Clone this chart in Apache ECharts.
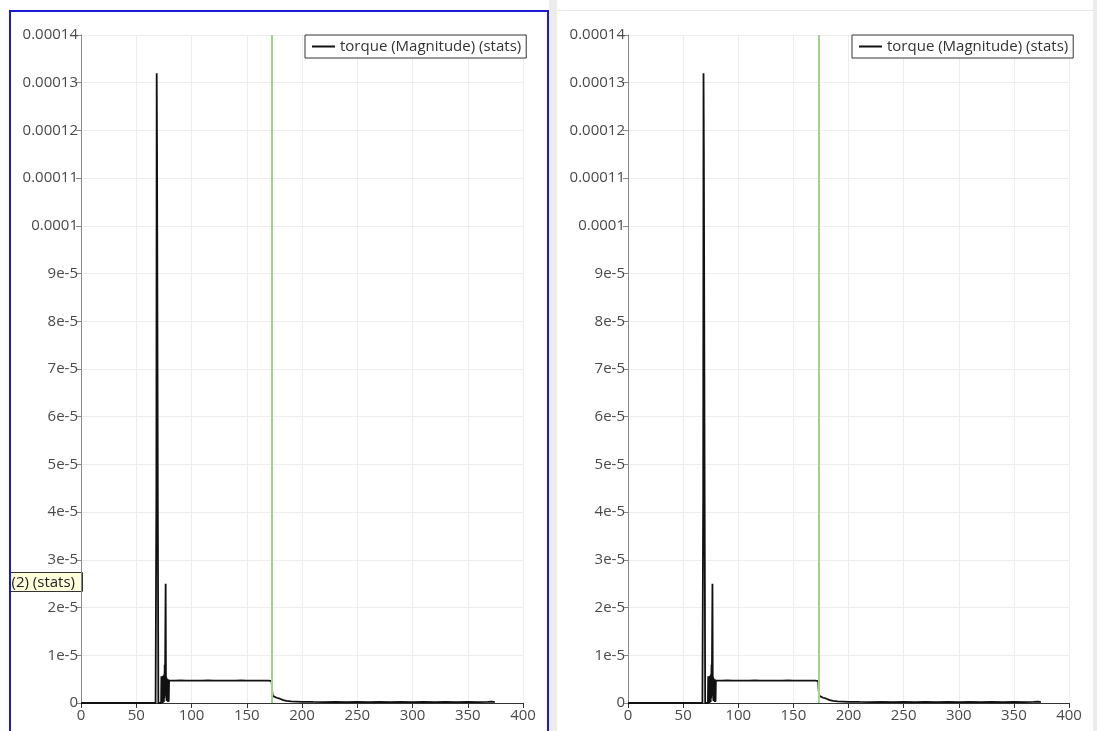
<!DOCTYPE html>
<html>
<head>
<meta charset="utf-8">
<style>
  html, body { margin: 0; padding: 0; background: #ffffff; }
  #chart { width: 1097px; height: 731px; }
</style>
<script src="https://cdn.jsdelivr.net/npm/echarts@6/dist/echarts.min.js"></script>
</head>
<body>
<div id="chart"></div>
<script>
// Time (x) samples of the torque magnitude statistic
const timeValues = [
  0, 67.5, 68.2, 68.5, 68.8, 69.0, 69.5, 70.0, 72.5,
  72.75, 73.0, 73.25, 73.5, 73.75, 74.0, 74.25, 74.5, 74.75, 75.0, 75.25, 75.5, 75.75, 76.0,
  76.6, 76.9, 77.1, 77.4, 77.6, 77.9, 78.1, 78.4, 78.6, 78.9, 79.1, 79.4, 79.7,
  85, 90, 95, 100, 105, 110, 115, 120, 125, 130, 135, 140, 145, 150, 155, 160, 165, 170, 172.5,
  173.0, 173.5, 175, 177, 180, 183, 186, 190, 195, 200,
  210, 220, 230, 240, 250, 260, 270, 280, 290, 300, 310, 320, 330, 340, 350, 360, 368, 372, 373.5, 374.5
];
// Torque magnitude at each time sample
const torqueValues = [
  0, 0, 4.4e-5, 1.32e-4, 1.16e-4, 9.8e-5, 4.4e-5, 0, 0,
  5.6e-6, 0, 5.5e-6, 0.3e-6, 5.4e-6, 0, 5.7e-6, 0.5e-6, 5.2e-6, 0.2e-6, 6.0e-6, 1.0e-6, 8.0e-6, 2.0e-6,
  2.5e-5, 1.5e-6, 5.5e-6, 0.5e-6, 5.2e-6, 0.4e-6, 5.0e-6, 0.3e-6, 5.0e-6, 0.2e-6, 4.9e-6, 0.3e-6, 4.7e-6,
  4.68e-6, 4.72e-6, 4.69e-6, 4.71e-6, 4.70e-6, 4.67e-6, 4.72e-6, 4.70e-6, 4.69e-6, 4.71e-6, 4.68e-6, 4.70e-6, 4.72e-6, 4.69e-6, 4.70e-6, 4.71e-6, 4.68e-6, 4.70e-6, 4.6e-6,
  2.5e-6, 1.5e-6, 1.3e-6, 1.1e-6, 0.9e-6, 0.6e-6, 0.45e-6, 0.35e-6, 0.3e-6, 0.25e-6,
  0.22e-6, 0.2e-6, 0.22e-6, 0.2e-6, 0.21e-6, 0.2e-6, 0.22e-6, 0.2e-6, 0.21e-6, 0.2e-6, 0.22e-6, 0.2e-6, 0.21e-6, 0.2e-6, 0.22e-6, 0.2e-6, 0.24e-6, 0.3e-6, 0.45e-6, 0.2e-6
];
// Current time marker
const currentTime = 173;
// Axis tick labels
const xTickLabels = ['0', '50', '100', '150', '200', '250', '300', '350', '400'];
const yTickLabels = ['0', '1e-5', '2e-5', '3e-5', '4e-5', '5e-5', '6e-5', '7e-5', '8e-5', '9e-5',
                     '0.0001', '0.00011', '0.00012', '0.00013', '0.00014'];
const seriesName = 'torque (Magnitude) (stats)';
const tooltipText = '(2) (stats)';

const points = timeValues.map((t, i) => [t, torqueValues[i]]);
const fontFamily = '"Open Sans", Lato, sans-serif';

function xAxisFor(gridIndex) {
  return {
    type: 'value', gridIndex: gridIndex, min: 0, max: 400, interval: 50,
    axisLine: { show: true, onZero: false, lineStyle: { color: '#333', width: 1 } },
    axisTick: { show: true, length: 5, lineStyle: { color: '#333' } },
    axisLabel: {
      color: '#4a4a4a', fontSize: 15, fontFamily: fontFamily, margin: 5,
      formatter: v => xTickLabels[Math.round(v / 50)] ?? ''
    },
    splitLine: { show: true, lineStyle: { color: '#ededed', width: 1 } }
  };
}
function yAxisFor(gridIndex) {
  return {
    type: 'value', gridIndex: gridIndex, min: 0, max: 0.00014, interval: 0.00001,
    axisLine: { show: true, lineStyle: { color: '#888', width: 1 } },
    axisTick: { show: true, length: 5, lineStyle: { color: '#888' } },
    axisLabel: {
      color: '#4a4a4a', fontSize: 15, fontFamily: fontFamily, margin: 3,
      formatter: v => yTickLabels[Math.round(v * 1e5)] ?? ''
    },
    splitLine: { show: true, lineStyle: { color: '#ededed', width: 1 } }
  };
}
function seriesFor(idx) {
  return {
    name: seriesName, type: 'line', xAxisIndex: idx, yAxisIndex: idx,
    data: points, showSymbol: false, symbol: 'none',
    lineStyle: { color: '#111', width: 1.8 }, itemStyle: { color: '#111' },
    animation: false,
    markLine: {
      silent: true, symbol: 'none', animation: false,
      label: { show: false },
      lineStyle: { color: '#9ed48c', width: 2, type: 'solid' },
      data: [{ xAxis: currentTime }]
    }
  };
}
function legendFor(idx, left) {
  return {
    data: [seriesName], left: left, top: 35, orient: 'horizontal',
    backgroundColor: '#fff', borderColor: '#333', borderWidth: 1, borderRadius: 0,
    padding: [4, 5, 4, 7], itemWidth: 23, itemHeight: 2, itemGap: 5,
    icon: 'rect',
    textStyle: { color: '#333', fontSize: 15, fontFamily: fontFamily },
    selectedMode: false
  };
}

const chart = echarts.init(document.getElementById('chart'), null, { renderer: 'canvas' });
chart.setOption({
  backgroundColor: '#ffffff',
  animation: false,
  grid: [
    { left: 81, top: 35, width: 442, height: 668 },
    { left: 628, top: 35, width: 441, height: 668 }
  ],
  xAxis: [xAxisFor(0), xAxisFor(1)],
  yAxis: [yAxisFor(0), yAxisFor(1)],
  legend: [legendFor(0, 305), legendFor(1, 852)],
  series: [seriesFor(0), seriesFor(1)],
  graphic: [
    // gutter between the two views and at the right edge
    { type: 'rect', shape: { x: 549, y: 0, width: 8, height: 731 }, style: { fill: '#ececec' }, z: -1 },
    { type: 'rect', shape: { x: 1093, y: 0, width: 4, height: 731 }, style: { fill: '#ececec' }, z: -1 },
    { type: 'line', shape: { x1: 557, y1: 10.5, x2: 1093, y2: 10.5 }, style: { stroke: '#e6e6e6', lineWidth: 1 }, z: 10 },
    // active view frame
    { type: 'rect', shape: { x: 10, y: 11, width: 538, height: 730 }, style: { fill: 'none', stroke: '#1a1ad6', lineWidth: 2 }, z: 10 },
    // hover tooltip
    {
      type: 'group', left: 9, top: 572, z: 20,
      children: [
        { type: 'rect', shape: { x: 0, y: 0, width: 73, height: 19 }, style: { fill: '#ffffdc', stroke: '#333', lineWidth: 1 } },
        { type: 'text', x: 2, y: 10, style: { text: tooltipText, fill: '#222', font: '15px ' + fontFamily, verticalAlign: 'middle' } }
      ]
    }
  ]
});
</script>
</body>
</html>
